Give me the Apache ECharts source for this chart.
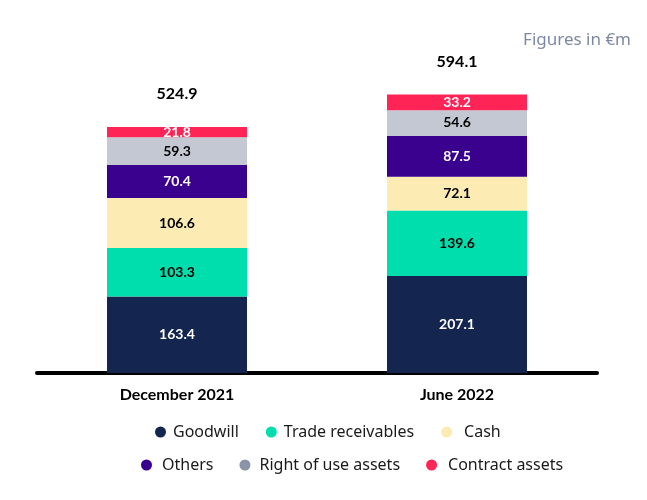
<!DOCTYPE html>
<html>
<head>
<meta charset="utf-8">
<script src="https://cdn.jsdelivr.net/npm/echarts@6/dist/echarts.min.js"></script>
<style>html,body{margin:0;padding:0;background:#fff}#c{width:647px;height:500px}</style>
</head>
<body>
<div id="c"></div>
<script>
const categories = ["December 2021", "June 2022"];
const goodwill = [163.4, 207.1];
const tradeReceivables = [103.3, 139.6];
const cash = [106.6, 72.1];
const others = [70.4, 87.5];
const rightOfUse = [59.3, 54.6];
const contractAssets = [21.8, 33.2];
const totals = ["524.9", "594.1"];
const seriesNames = ["Goodwill", "Trade receivables", "Cash", "Others", "Right of use assets", "Contract assets"];

const colors = ["#14264f", "#00deae", "#fdebb4", "#3a008e", "#c4c8d2", "#ff2456"];
const labelColors = ["#ffffff", "#000000", "#000000", "#ffffff", "#000000", "#ffffff"];
const legendColors = ["#14264f", "#00deae", "#fdebb4", "#3a008e", "#8a93a8", "#ff2456"];
const seriesData = [goodwill, tradeReceivables, cash, others, rightOfUse, contractAssets];
const FONT = "Lato";
const LFONT = "Noto Sans";

const series = seriesNames.map((name, i) => ({
  name: name,
  type: "bar",
  stack: "total",
  barWidth: "50%",
  data: seriesData[i],
  itemStyle: { color: colors[i] },
  label: {
    show: true,
    position: "inside",
    color: labelColors[i],
    fontFamily: FONT,
    fontWeight: "bold",
    fontSize: 14,
    formatter: p => p.value.toFixed(1)
  },
  emphasis: { disabled: true }
}));
series.push({
  name: "Total",
  type: "bar",
  stack: "total",
  barWidth: "50%",
  data: categories.map(() => 0),
  itemStyle: { color: "transparent" },
  label: {
    show: true,
    position: "top",
    distance: 25,
    color: "#000",
    fontFamily: FONT,
    fontWeight: "bold",
    fontSize: 16,
    formatter: p => totals[p.dataIndex]
  }
});

const legendPad = { "Goodwill": 2, "Trade receivables": 2, "Cash": 7, "Others": 5, "Right of use assets": 4, "Contract assets": 6 };
function legendItems(names, start) {
  return names.map((n, k) => ({
    name: n,
    itemStyle: { color: legendColors[start + k] },
    textStyle: { padding: [0, 0, 0, legendPad[n]] }
  }));
}

const chart = echarts.init(document.getElementById("c"));
chart.setOption({
  animation: false,
  title: {
    text: "Figures in €m",
    right: 11,
    top: 27,
    textStyle: { color: "#7e89a1", fontFamily: LFONT, fontWeight: "normal", fontSize: 17 }
  },
  grid: { left: 37, right: 50, top: 45, bottom: 127 },
  legend: [
    {
      data: legendItems(seriesNames.slice(0, 3), 0),
      left: 150, top: 419,
      icon: "circle", itemWidth: 11, itemHeight: 11, itemGap: 27,
      textStyle: { fontFamily: LFONT, fontSize: 16, color: "#1a1a1a" }
    },
    {
      data: legendItems(seriesNames.slice(3), 3),
      left: 136, top: 452,
      icon: "circle", itemWidth: 11, itemHeight: 11, itemGap: 26,
      textStyle: { fontFamily: LFONT, fontSize: 16, color: "#1a1a1a" }
    }
  ],
  xAxis: {
    type: "category",
    data: categories,
    axisLine: { lineStyle: { color: "#000", width: 4 } },
    axisTick: { show: false },
    axisLabel: { color: "#000", fontFamily: FONT, fontWeight: "bold", fontSize: 16, margin: 14 }
  },
  yAxis: {
    type: "value",
    min: 0, max: 700,
    show: false,
    splitLine: { show: false }
  },
  series: series
});
</script>
</body>
</html>
